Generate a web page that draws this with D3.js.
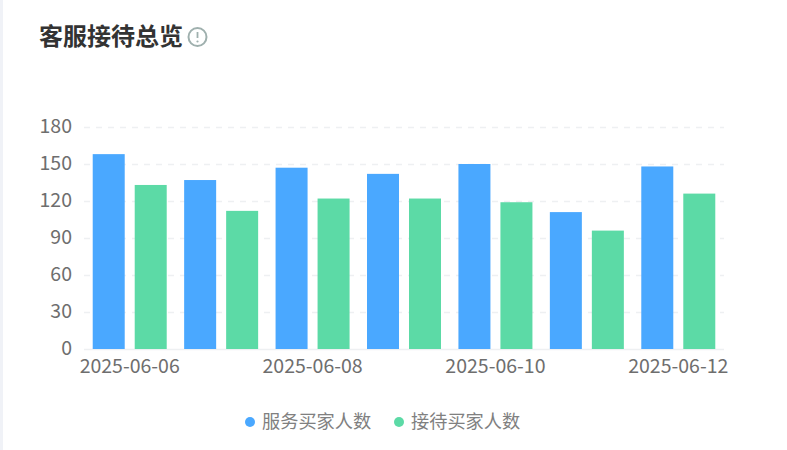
<!DOCTYPE html>
<html>
<head>
<meta charset="utf-8">
<script src="https://cdn.jsdelivr.net/npm/d3@7"></script>
<style>
  html, body { margin: 0; padding: 0; background: #fff; overflow: hidden; }
  text { font-family: "Noto Sans CJK SC", "Noto Sans", sans-serif; }
</style>
</head>
<body>
<main></main>
<script>
const dates = ["2025-06-06", "2025-06-07", "2025-06-08", "2025-06-09", "2025-06-10", "2025-06-11", "2025-06-12"];
const tickDates = ["2025-06-06", "2025-06-08", "2025-06-10", "2025-06-12"];
const yTicks = [0, 30, 60, 90, 120, 150, 180];
const served = [158, 137, 147, 142, 150, 111, 148];
const received = [133, 112, 122, 122, 119, 96, 126];
const seriesNames = ["服务买家人数", "接待买家人数"];
const colors = ["#4aa8ff", "#5cdaa6"];

const width = 787;
const height = 450;
const left = 84;
const right = 724;
const top_ = 127;
const bottom = 349;
const barWidth = 32;

const svg = d3
  .select("main")
  .append("svg")
  .attr("width", width)
  .attr("height", height)
  .style("display", "block");

// strip on the left edge of the card
svg.append("rect").attr("width", 3).attr("height", height).attr("fill", "#f0f2f7");

svg.append("text")
  .attr("x", 39)
  .attr("y", 45)
  .attr("font-size", 24)
  .attr("font-weight", 700)
  .attr("fill", "#333")
  .text("客服接待总览");

const info = svg.append("g").attr("transform", "translate(197.5,37)");
info.append("circle").attr("r", 9).attr("fill", "none").attr("stroke", "#9fb0ae").attr("stroke-width", 2);
info.append("line").attr("y1", -5).attr("y2", 1).attr("stroke", "#9fb0ae").attr("stroke-width", 1.8);
info.append("circle").attr("cy", 4.5).attr("r", 1.1).attr("fill", "#9fb0ae");

const x = d3.scaleBand().domain(dates).range([left, right]);
const y = d3.scaleLinear().domain([0, 180]).range([bottom, top_]);

const yAxis = svg.append("g")
  .attr("transform", `translate(${left},0)`)
  .call(d3.axisLeft(y).tickValues(yTicks).tickSize(0).tickPadding(12));
yAxis.select(".domain").remove();
yAxis.selectAll("text")
  .attr("font-size", 19.5)
  .attr("fill", "#6e6e6e")
  .attr("dy", "0.27em")
  .style("font-family", null);
yAxis.selectAll("line")
  .attr("x2", right - left)
  .attr("stroke", "#eef0f2")
  .attr("stroke-width", 1.5)
  .attr("stroke-dasharray", (d) => (d === 0 ? null : "6 6"));

const xAxis = svg.append("g")
  .attr("transform", `translate(0,${bottom})`)
  .call(d3.axisBottom(x).tickValues(tickDates).tickSize(0).tickPadding(10));
xAxis.select(".domain").remove();
xAxis.selectAll("text").attr("font-size", 19.5).attr("fill", "#6e6e6e");

[served, received].forEach((values, i) => {
  svg.append("g")
    .selectAll("rect")
    .data(values)
    .enter()
    .append("rect")
    .attr("x", (d, j) => x(dates[j]) + x.bandwidth() / 2 + (i === 0 ? -37 : 5))
    .attr("y", (d) => y(d))
    .attr("width", barWidth)
    .attr("height", (d) => y(0) - y(d))
    .attr("fill", colors[i]);
});

const legend = svg.append("g").attr("transform", "translate(250,422)");
seriesNames.forEach((name, i) => {
  const g = legend.append("g").attr("transform", `translate(${i * 149},0)`);
  g.append("circle").attr("r", 5).attr("fill", colors[i]);
  g.append("text")
    .attr("x", 12)
    .attr("y", 6)
    .attr("font-size", 18.2)
    .attr("fill", "#808080")
    .text(name);
});
</script>
</body>
</html>
